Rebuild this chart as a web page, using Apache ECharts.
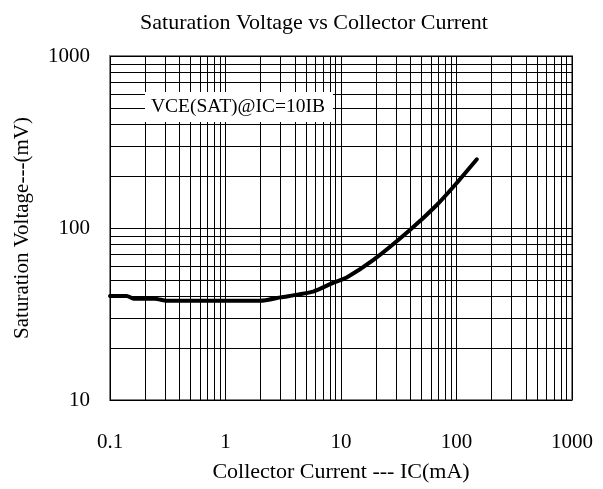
<!DOCTYPE html>
<html>
<head>
<meta charset="utf-8">
<script src="https://cdn.jsdelivr.net/npm/echarts@6/dist/echarts.min.js"></script>
<style>html,body{margin:0;padding:0;background:#fff}#c{width:603px;height:489px}</style>
</head>
<body>
<div id="c"></div>
<script>
// Collector current IC (mA)
const icValues = [0.1, 0.14, 0.16, 0.245, 0.31, 1, 2, 3, 5.75, 8.6, 11.2, 19.1, 39.5, 67.5, 100, 150];
// Saturation voltage VCE(sat) (mV)
const vceValues = [40.3, 40.3, 38.8, 38.8, 37.7, 37.7, 37.7, 39.5, 42.7, 48.1, 51.6, 65.2, 97.3, 136, 182, 251];
const xTickLabels = ['0.1', '1', '10', '100', '1000'];
const yTickLabels = ['10', '100', '1000'];
const annotationText = 'VCE(SAT)@IC=10IB';
const titleText = 'Saturation Voltage vs Collector Current';
const xAxisName = 'Collector Current --- IC(mA)';
const yAxisName = 'Saturation Voltage---(mV)';

const FONT = '"Liberation Serif", "DejaVu Serif", serif';

// minor grid values (2..9 per decade)
const xMinor = [], yMinor = [];
[0.1, 1, 10, 100].forEach(d => { for (let k = 2; k <= 9; k++) xMinor.push(+(d * k).toPrecision(3)); });
[10, 100].forEach(d => { for (let k = 2; k <= 9; k++) yMinor.push(d * k); });

const chart = echarts.init(document.getElementById('c'), null, {renderer: 'canvas'});
const gridLine = {color: '#000', width: 1, type: 'solid'};
chart.setOption({
  animation: false,
  backgroundColor: '#fff',
  title: {
    text: titleText, left: 309, top: 7, textAlign: 'center',
    textStyle: {fontFamily: FONT, fontSize: 22, fontWeight: 'normal', color: '#000'}
  },
  grid: {left: 110, top: 56, width: 462, height: 344, show: true, borderColor: '#7f7f7f', borderWidth: 2, backgroundColor: 'transparent', containLabel: false},
  xAxis: {
    type: 'log', logBase: 10, min: 0.1, max: 1000,
    name: xAxisName, nameLocation: 'middle', nameGap: 61,
    nameTextStyle: {fontFamily: FONT, fontSize: 22, color: '#000'},
    axisLine: {show: false}, axisTick: {show: false},
    axisLabel: {margin: 32, fontFamily: FONT, fontSize: 21, color: '#000',
      formatter: v => { const s = xTickLabels.find(t => Math.abs(+t - v) < 1e-9 * Math.max(1, v)); return s || ''; }},
    splitLine: {show: true, lineStyle: gridLine}
  },
  yAxis: {
    type: 'log', logBase: 10, min: 10, max: 1000,
    name: yAxisName, nameLocation: 'middle', nameGap: 77,
    nameTextStyle: {fontFamily: FONT, fontSize: 21, color: '#000'},
    axisLine: {show: false}, axisTick: {show: false},
    axisLabel: {margin: 20, fontFamily: FONT, fontSize: 21, color: '#000', padding: [4, 0, 0, 0],
      formatter: v => { const s = yTickLabels.find(t => Math.abs(+t - v) < 1e-9 * v); return s || ''; }},
    splitLine: {show: true, lineStyle: gridLine}
  },
  series: [
    {
      type: 'line', data: [], silent: true, z: 1,
      markLine: {
        silent: true, symbol: 'none', label: {show: false}, animation: false,
        lineStyle: {color: '#000', width: 1, type: 'solid'},
        data: xMinor.map(v => ({xAxis: v})).concat(yMinor.map(v => ({yAxis: v})))
      }
    },
    {
      type: 'line', z: 5,
      data: icValues.map((x, i) => [x, vceValues[i]]),
      showSymbol: false, symbol: 'none', smooth: 0.2,
      lineStyle: {color: '#000', width: 4, join: 'round', cap: 'round'}
    }
  ],
  graphic: [
    {type: 'rect', shape: {x: 145, y: 92, width: 188, height: 30}, style: {fill: '#fff', stroke: null}, z: 10},
    {type: 'text', x: 238, y: 107, style: {text: annotationText, fontFamily: FONT, fontSize: 19.5, fill: '#000', textAlign: 'center', textVerticalAlign: 'middle'}, z: 11}
  ]
});
</script>
</body>
</html>
